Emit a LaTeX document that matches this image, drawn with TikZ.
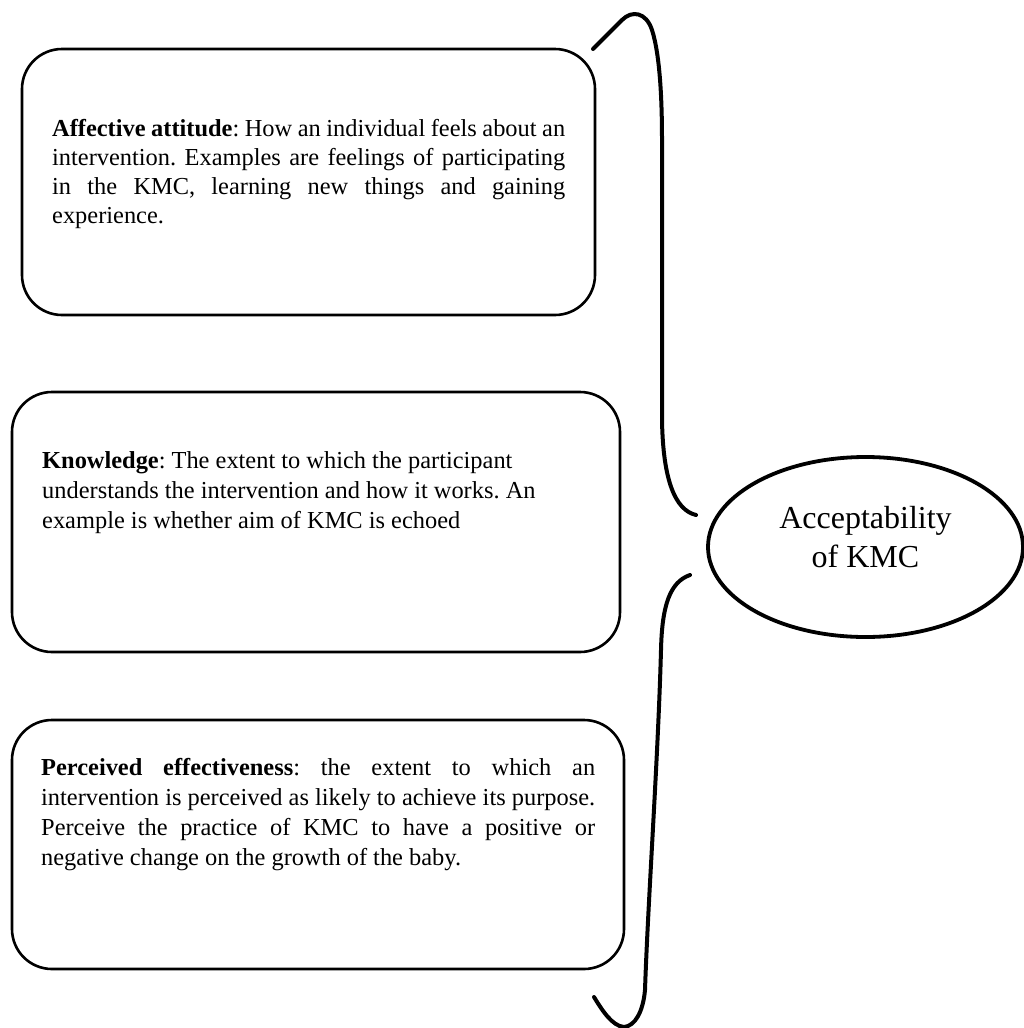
\documentclass[tikz,border=0pt]{standalone}
\usepackage{fontspec}
\setmainfont{Liberation Serif}
\usetikzlibrary{shapes.geometric}
\frenchspacing
\begin{document}
\begin{tikzpicture}[x=1pt,y=-1pt,
  card/.style={draw, line width=2.6pt, rounded corners=40pt, inner sep=0pt},
  txt/.style={inner sep=0pt, anchor=north west, align=left},
  bracepath/.style={line width=4pt, line cap=round, line join=round}]
\useasboundingbox (0,0) rectangle (1024,1028);
% boxes
\node[card, minimum width=573pt, minimum height=266pt] (b1) at (308.5,182) {};
\node[card, minimum width=608pt, minimum height=260pt] (b2) at (316,522) {};
\node[card, minimum width=612pt, minimum height=249pt] (b3) at (318,844.5) {};
% texts
\node[txt, font=\fontsize{24.4}{29}\selectfont] (t1) at (52,119) {%
\makebox[513pt][s]{\textbf{Affective attitude}: How an individual feels about an}\\
\makebox[513pt][s]{intervention. Examples are feelings of participating}\\
\makebox[513pt][s]{in the KMC, learning new things and gaining}\\
experience.};
\node[txt, font=\fontsize{24.4}{30}\selectfont] (t2) at (42,451) {%
\textbf{Knowledge}: The extent to which the participant\\
understands the intervention and how it works. An\\
example is whether aim of KMC is echoed};
\node[txt, font=\fontsize{24.4}{30}\selectfont] (t3) at (41,758) {%
\makebox[554pt][s]{\textbf{Perceived effectiveness}: the extent to which an}\\
\makebox[554pt][s]{intervention is perceived as likely to achieve its purpose.}\\
\makebox[554pt][s]{Perceive the practice of KMC to have a positive or}\\
negative change on the growth of the baby.};
% ellipse
\node[draw, ellipse, line width=3.8pt, minimum width=315pt, minimum height=180pt, inner sep=0pt, align=center,
  font=\fontsize{32}{39}\selectfont] (acc) at (865.5,547) {Acceptability\\of KMC\rule[-20pt]{0pt}{0pt}};
% brace
\coordinate (topTip) at (593,49);
\coordinate (midA) at (696,515);
\coordinate (midB) at (690,575);
\coordinate (botTip) at (594,997);
\draw[bracepath] (topTip) -- (622,20) .. controls (632,10) and (646,12) .. (652,30)
  .. controls (660,55) and (662,100) .. (662,140) -- (662,420)
  .. controls (663,480) and (675,510) .. (midA);
\draw[bracepath] (midB) .. controls (670,582) and (662,605) .. (661,650)
  .. controls (658,760) and (648,900) .. (645,990)
  .. controls (643,1012) and (635,1026) .. (624,1027)
  .. controls (612,1026) and (602,1010) .. (botTip);
\end{tikzpicture}
\end{document}
